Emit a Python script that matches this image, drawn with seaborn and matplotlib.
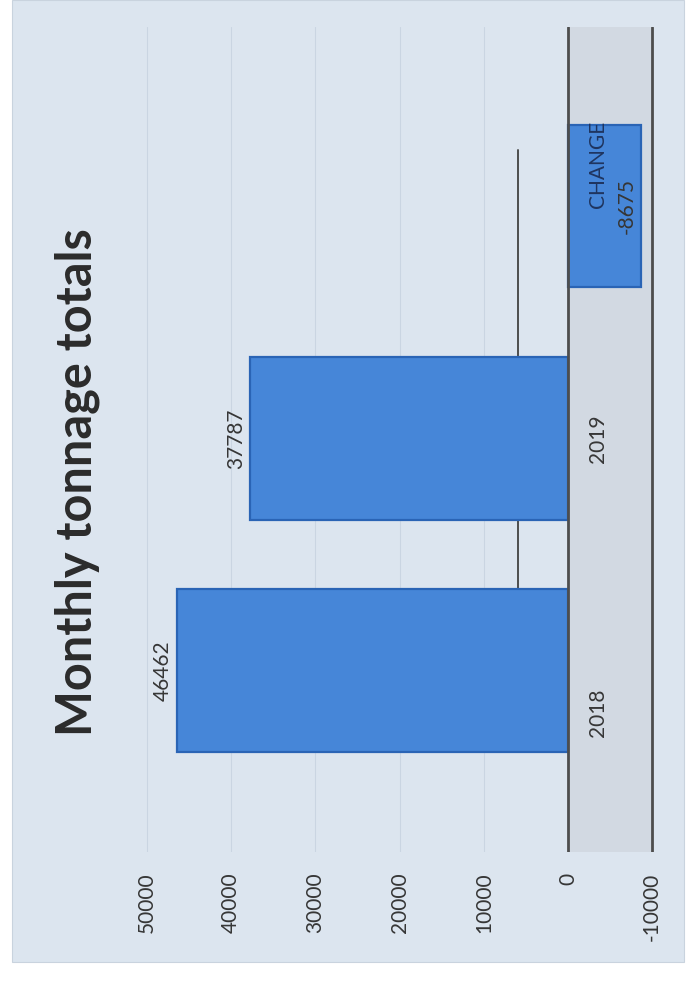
import matplotlib
matplotlib.use("Agg")
import matplotlib.pyplot as plt
import seaborn as sns
import pandas as pd
from matplotlib.patches import Rectangle

# ─── Data ────────────────────────────────────────────────────────────────────
categories = ["2018", "2019", "CHANGE"]
tonnage = [46462, 37787, -8675]
tick_values = [50000, 40000, 30000, 20000, 10000, 0, -10000]
title = "Monthly tonnage totals"

df = pd.DataFrame({"category": categories, "tonnage": tonnage})

# ─── Style ───────────────────────────────────────────────────────────────────
sns.set_theme(style="white")
plt.rcParams["font.family"] = ["Lato", "DejaVu Sans"]

BG = "#dce5ef"
BAR = "#4686d8"
EDGE = "#2a64b5"
TEXT = "#363636"
LINE = "#4d4d4d"
CAT_LABEL_X = -3560      # category names sit in the floor band
CAT_SPREAD = 1.18        # category names fan out a little (3D perspective)

fig = plt.figure(figsize=(6.9, 9.84), dpi=100)
fig.patch.set_facecolor("white")
# scanned page area
fig.patches.append(Rectangle((12 / 690, 22 / 984), 672 / 690, 962 / 984,
                             transform=fig.transFigure, facecolor=BG,
                             edgecolor="#c9d3de", lw=0.8, zorder=-10))

ax = fig.add_axes([125 / 690, 1 - 852 / 984, 547 / 690, 825 / 984])
ax.set_facecolor("none")

# order reversed so 2018 sits at the bottom (seaborn puts the first on top)
order = categories[::-1]
sns.barplot(data=df, x="tonnage", y="category", order=order,
            orient="h", color=BAR, saturation=1, width=0.7,
            edgecolor=EDGE, linewidth=1.6, ax=ax, zorder=3)

ax.set_xlim(52600, -12350)
ax.set_ylim(2.78, -0.77)

# faint grid + dark zero / floor lines
for v in tick_values:
    if v in (0, -10000):
        ax.axvline(v, color=LINE, lw=2.0, zorder=4)
    else:
        ax.axvline(v, color="#cad5e2", lw=0.8, zorder=1)
ax.axvspan(-10000, 0, color="#c3c8cf", alpha=0.4, lw=0, zorder=0)
# back-wall floor edge of the original 3D chart
ax.plot([5940, 5940], [-0.24, 2.23], color=LINE, lw=1.4, zorder=2)

ax.set_xticks(tick_values)
ax.set_xticklabels([str(v) for v in tick_values])
ax.tick_params(axis="x", labelrotation=90, length=0, pad=15,
               labelsize=15, labelcolor=TEXT)
ax.set_yticks([])
ax.set_xlabel("")
ax.set_ylabel("")
for s in ax.spines.values():
    s.set_visible(False)

# value labels just beyond the bar end, category labels in the floor band
pos = {c: i for i, c in enumerate(order)}
for c, v in zip(categories, tonnage):
    ax.annotate(str(v), (v, pos[c]), xytext=(-10, 0), textcoords="offset points",
                rotation=90, ha="center", va="center", fontsize=15,
                color=TEXT, zorder=6)
    ax.text(CAT_LABEL_X, 1 + (pos[c] - 1) * CAT_SPREAD, c, rotation=90,
            ha="center", va="center", fontsize=15,
            color="#1f3560" if c == "CHANGE" else TEXT, zorder=6)

fig.text(77 / 690, 1 - 482 / 984, title, rotation=90, ha="center", va="center",
         fontsize=35, fontweight="bold", color="#2b2b2b")

fig.savefig("out.png", dpi=100, facecolor=fig.get_facecolor())
